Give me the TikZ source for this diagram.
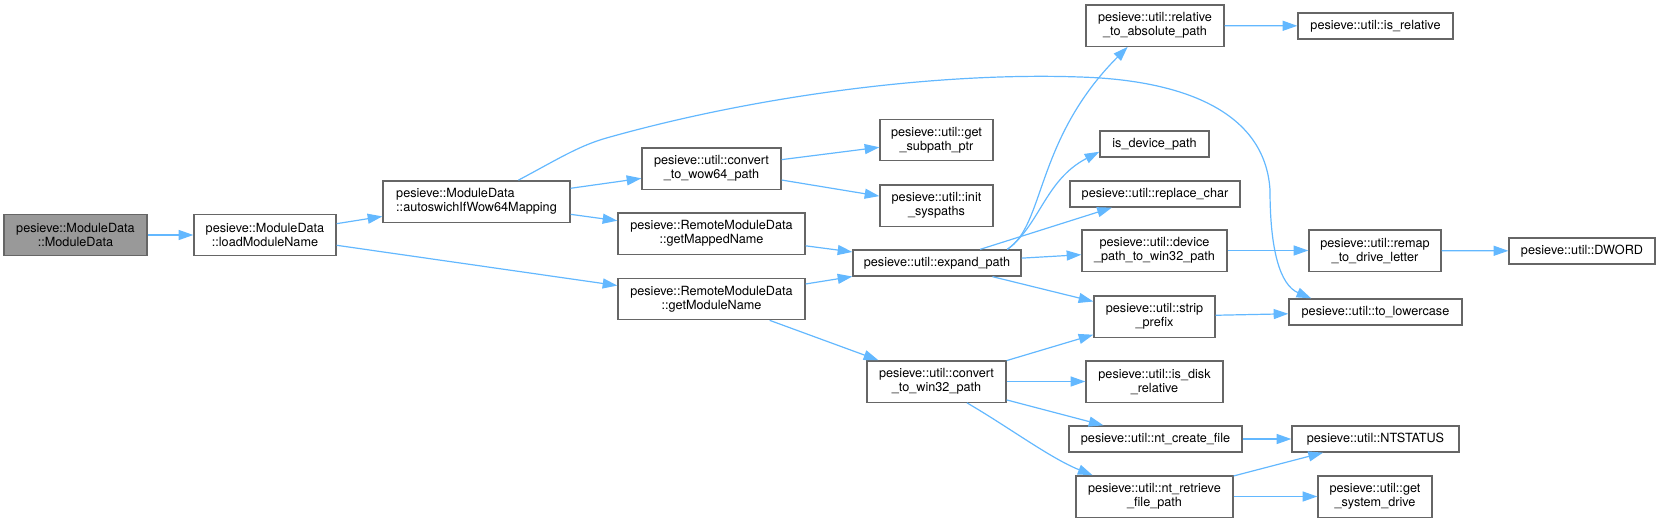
\documentclass[tikz,border=0pt]{standalone}
\usepackage{fontspec}
\setmainfont{TeX Gyre Heros}
\usetikzlibrary{arrows.meta}

\definecolor{callblue}{HTML}{63B8FF}
\definecolor{boxgray}{HTML}{666666}
\definecolor{rootgray}{HTML}{999999}

\begin{document}
\begin{tikzpicture}[
    x=0.75pt, y=-0.75pt,
    fn/.style={rectangle, draw=boxgray, fill=white, line width=1pt,
               inner sep=1pt, align=center, minimum height=19.5pt,
               minimum width=0.75pt*#1,
               font=\fontsize{9.5}{10.5}\selectfont},
    tall/.style={minimum height=31pt},
    root/.style={fill=rootgray},
    call/.style={-{Triangle[length=11pt,width=7.5pt]}, line width=0.9pt,
                 draw=callblue}
]
\useasboundingbox (0,0) rectangle (1659,522);

\node[fn=143, tall, root] (md) at (75.5,235) {pesieve::ModuleData\\::ModuleData};
\node[fn=142, tall] (lmn) at (265,235) {pesieve::ModuleData\\::loadModuleName};
\node[fn=187, tall, align=left] (asw) at (476.5,201.5) {pesieve::ModuleData\\::autoswichIfWow64Mapping};
\node[fn=139, tall] (cw64) at (711.5,168.5) {pesieve::util::convert\\\_to\_wow64\_path};
\node[fn=187, tall] (gmap) at (711.5,233.5) {pesieve::RemoteModuleData\\::getMappedName};
\node[fn=187, tall] (gmod) at (711.5,299) {pesieve::RemoteModuleData\\::getModuleName};
\node[fn=113, tall] (gsp) at (936.5,140) {pesieve::util::get\\\_subpath\_ptr};
\node[fn=113, tall] (isp) at (936.5,205.5) {pesieve::util::init\\\_syspaths};
\node[fn=168] (exp) at (937,263) {pesieve::util::expand\_path};
\node[fn=139, tall] (cw32) at (936.5,381.5) {pesieve::util::convert\\\_to\_win32\_path};
\node[fn=138, tall] (rta) at (1155,25.5) {pesieve::util::relative\\\_to\_absolute\_path};
\node[fn=109] (idp) at (1154.5,144) {is\_device\_path};
\node[fn=170] (rc) at (1155,194) {pesieve::util::replace\_char};
\node[fn=145, tall] (dpw) at (1154.5,250.5) {pesieve::util::device\\\_path\_to\_win32\_path};
\node[fn=121, tall] (sp) at (1154.5,316.5) {pesieve::util::strip\\\_prefix};
\node[fn=137, tall] (idr) at (1154.5,381.5) {pesieve::util::is\_disk\\\_relative};
\node[fn=173] (ncf) at (1155.5,439) {pesieve::util::nt\_create\_file};
\node[fn=157, tall] (nrf) at (1154.5,496.5) {pesieve::util::nt\_retrieve\\\_file\_path};
\node[fn=155] (isr) at (1375.5,26) {pesieve::util::is\_relative};
\node[fn=132, tall] (rmp) at (1375,250.5) {pesieve::util::remap\\\_to\_drive\_letter};
\node[fn=173] (tlc) at (1375.5,312) {pesieve::util::to\_lowercase};
\node[fn=167] (nts) at (1375.5,439) {pesieve::util::NTSTATUS};
\node[fn=114, tall] (gsd) at (1375,496.5) {pesieve::util::get\\\_system\_drive};
\node[fn=146] (dw) at (1582,251) {pesieve::util::DWORD};

\draw[call] (md) -- (lmn);
\draw[call] (lmn) -- (asw);
\draw[call] (lmn) -- (gmod);
\draw[call] (asw) -- (cw64);
\draw[call] (asw) -- (gmap);
\draw[call] (asw.27) .. controls (560,158) and (580,145) .. (610,137)
    .. controls (760,95) and (940,72) .. (1080,77)
    .. controls (1180,80) and (1265,110) .. (1270,190)
    .. controls (1270,250) and (1280,285) .. (tlc.168);
\draw[call] (cw64) -- (gsp);
\draw[call] (cw64) -- (isp);
\draw[call] (gmap) -- (exp);
\draw[call] (gmod) -- (exp);
\draw[call] (gmod) -- (cw32);
\draw[call] (exp.11) .. controls (1045,225) and (1035,140) .. (rta.-142);
\draw[call] (exp.11) .. controls (1040,225) and (1045,180) .. (idp.-172);
\draw[call] (exp) -- (rc);
\draw[call] (exp) -- (dpw);
\draw[call] (exp) -- (sp);
\draw[call] (rta) -- (isr);
\draw[call] (dpw) -- (rmp);
\draw[call] (rmp) -- (dw);
\draw[call] (sp) -- (tlc);
\draw[call] (cw32) -- (sp);
\draw[call] (cw32) -- (idr);
\draw[call] (cw32) -- (ncf);
\draw[call] (cw32.-35) .. controls (1010,428) and (1050,458) .. (nrf.161);
\draw[call] (ncf) -- (nts);
\draw[call] (nrf) -- (nts);
\draw[call] (nrf) -- (gsd);
\end{tikzpicture}
\end{document}
